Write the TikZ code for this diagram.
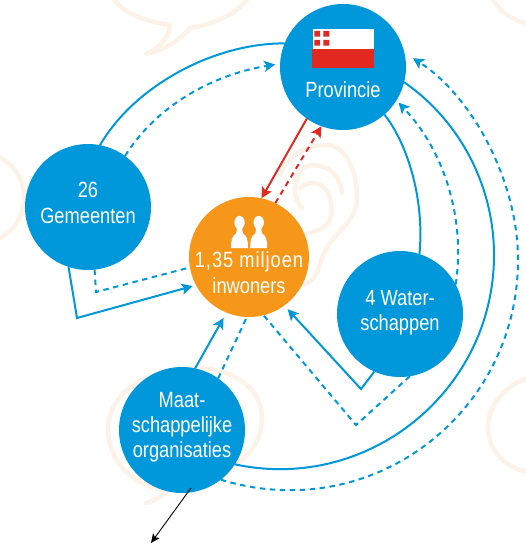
\documentclass[tikz,border=0pt]{standalone}
\usepackage{fontspec}
\setmainfont[FakeStretch=0.83]{Liberation Sans}
\usetikzlibrary{arrows.meta}
\definecolor{cblue}{HTML}{0098DA}
\definecolor{corange}{HTML}{F7971A}
\definecolor{cred}{HTML}{E1291F}
\definecolor{cfaint}{HTML}{FDF2E8}
\tikzset{
  bub/.style={circle,fill=cblue,draw=none,minimum size=126pt,inner sep=0pt,outer sep=0pt},
  txt/.style={text=white,align=center,inner sep=0pt,font=\fontsize{22}{25}\selectfont},
  txtw/.style={txt,font=\fontsize{22}{26}\selectfont},
  faint/.style={draw=cfaint,line width=4.5pt,line cap=round,line join=round},
  tipb/.style={-{Stealth[length=11pt,width=11pt,inset=2.5pt]}},
  con/.style={draw=cblue,line width=2pt},
  cond/.style={con,dash pattern=on 5.5pt off 4.5pt},
  redl/.style={draw=cred,line width=2pt},
  redd/.style={redl,dash pattern=on 5.5pt off 4.5pt},
}
\begin{document}
\begin{tikzpicture}[x=1pt,y=-1pt]
\useasboundingbox (0,0) rectangle (526,545);
\begin{scope}
\clip (0,0) rectangle (526,545);
% faint background
\draw[faint] (113,-2) .. controls (125,15) and (145,21) .. (170,25) .. controls (169,38) and (160,47) .. (146,54) .. controls (165,50) and (180,40) .. (190,28) .. controls (215,24) and (237,14) .. (248,-2);
\draw[faint] (0,158) .. controls (15,165) and (24,180) .. (24,197) .. controls (24,215) and (15,230) .. (0,238);
\draw[faint] (492,-2) .. controls (500,12) and (512,20) .. (528,24);
\draw[faint] (528,378) .. controls (505,385) and (488,405) .. (488,428) .. controls (488,450) and (505,468) .. (528,472);
\draw[faint] (146,503) .. controls (155,500) and (162,497) .. (168,491) .. controls (130,485) and (108,460) .. (108,428) .. controls (108,395) and (145,368) .. (195,368) .. controls (235,368) and (262,390) .. (262,418) .. controls (262,440) and (250,455) .. (235,465);
\draw[faint] (280,175) .. controls (288,155) and (305,145) .. (327,145) .. controls (345,145) and (357,170) .. (357,197) .. controls (357,212) and (350,220) .. (342,229) .. controls (330,242) and (324,250) .. (320,264) .. controls (317,275) and (312,282) .. (303,285);
\draw[faint] (342,193) .. controls (340,175) and (328,165) .. (313,165) .. controls (300,165) and (295,178) .. (295,190) .. controls (295,197) and (298,203) .. (302,208);
\draw[faint] (300,188) .. controls (305,184) and (310,183) .. (315,183) .. controls (325,184) and (332,197) .. (332,210) .. controls (332,224) and (320,232) .. (307,233);
\end{scope}
% circles
\node[bub] (prov) at (343,67) {};
\node[bub] (gem) at (88,207) {};
\node[bub] (water) at (400,314) {};
\node[bub] (maat) at (182,430) {};
\node[circle,fill=corange,draw=none,minimum size=120pt,inner sep=0pt,outer sep=0pt] (inw) at (249,257) {};
% flag
\fill[white] (313,29) rectangle (374,49);
\fill[cred] (312,49) rectangle (374,68);
\fill[cred] (314.3,31) rectangle (320,36.7) (323.3,31) rectangle (329.3,36.7) (314.3,40) rectangle (320,45.7) (323.3,40) rectangle (329.3,45.7);
% people icon
\foreach \dx in {0,19.2}{
\begin{scope}[xshift=\dx pt]
\fill[white] (239.5,222.5) ellipse[x radius=5.2,y radius=6.6];
\fill[white] (231,248) .. controls (231,240) and (232,236) .. (236,233.5) .. controls (237,232) and (237,229) .. (236.5,226) -- (242.5,226) .. controls (242,229) and (242,232) .. (243,233.5) .. controls (247,236) and (248,240) .. (248,248) -- cycle;
\end{scope}}
% labels
\node[txt] (tprov) at (343,90) {Provincie};
\node[txtw] (tgem) at (88,203) {26\\Gemeenten};
\node[txtw] (tinw) at (249,273) {\addfontfeatures{LetterSpace=4.5}1,35 miljoen\\inwoners};
\node[txt] (twater) at (400,313) {4 Water-\\schappen};
\node[txt] (tmaat) at (182,427) {Maat-\\schappelijke\\organisaties};
% corners
\coordinate (cg1) at (77,318);
\coordinate (cg2) at (96,292);
\coordinate (cw1) at (361,389);
\coordinate (cw2) at (356,425);
\coordinate (m1) at (494,255);
\coordinate (m2) at (518,260);
% Gemeenten - Provincie
\draw[con] (gem.79) .. controls (135,85) and (215,43) .. (prov.158);
\draw[cond,tipb,shorten >=5pt] (gem.54.6) .. controls (152,112) and (205,76) .. (prov.177);
% Gemeenten - inwoners
\draw[con,tipb,shorten >=3.5pt,line join=miter] (gem.-108.4) -- (cg1) -- (inw.-152);
\draw[cond,line join=miter] (gem.-84.6) -- (cg2) -- (inw.-170.7);
% red
\draw[redl,tipb] (prov.-125.8) -- (inw.78.7);
\draw[redd,tipb] (inw.64.7) -- (prov.-110);
% Maat - inwoners
\draw[con,tipb,shorten >=6pt] (maat.78) -- (inw.-112);
\draw[cond] (maat.55.8) -- (inw.-92);
% Water - inwoners
\draw[con,tipb,shorten >=5pt,line join=miter] (water.-114.6) -- (cw1) -- (inw.-54.4);
\draw[cond,line join=miter] (water.-81) -- (cw2) -- (inw.-76.4);
% Water - Provincie
\draw[con] (water.72.7) .. controls (425,195) and (405,140) .. (prov.-49.6);
\draw[cond,tipb,shorten >=3pt] (water.28.7) .. controls (465,225) and (448,155) .. (prov.-32.5);
% Maat - Provincie
\draw[con] (maat.-33.4) .. controls (368,493) and (494,391) .. (m1) .. controls (494,186) and (460,121) .. (prov.-14);
\draw[cond,tipb,shorten >=10pt] (maat.-52.8) .. controls (371,526) and (518,414) .. (m2) .. controls (518,180) and (471,95) .. (prov.13.5);
% black arrow
\coordinate (blk) at (151,543);
\draw[black,line width=0.9pt,-{Stealth[length=9pt,width=8pt,inset=2pt]},shorten <=-6pt] (maat.-85) -- (blk);
\end{tikzpicture}
\end{document}
